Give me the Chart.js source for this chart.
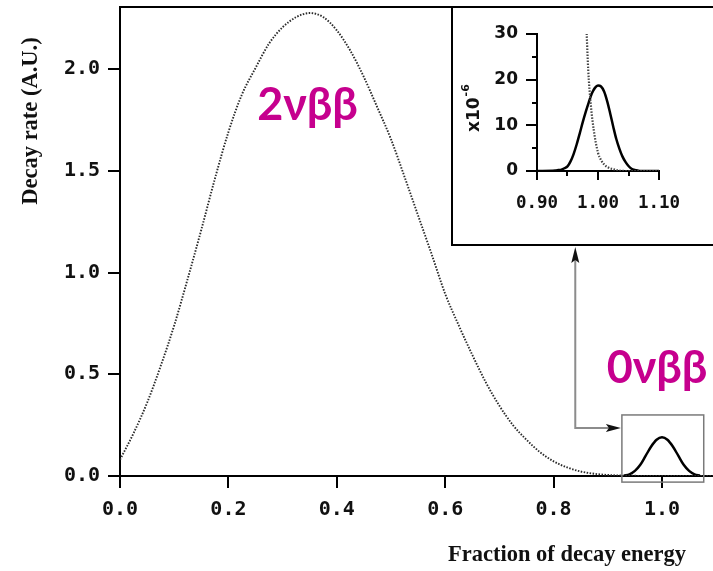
<!DOCTYPE html>
<html>
<head>
<meta charset="utf-8">
<script src="https://cdn.jsdelivr.net/npm/chart.js@4.4.1/dist/chart.umd.min.js"></script>
<style>
  html, body { margin: 0; padding: 0; background: #fff; overflow: hidden; }
  #wrap { position: relative; width: 713px; height: 571px; overflow: hidden; }
  #main { position: absolute; left: 0; top: 0; }
  #inset { position: absolute; left: 451px; top: 6px; width: 300px; height: 240px;
           box-sizing: border-box; border: 2px solid #000; background: #fff; }
  #zoom { position: absolute; left: 0; top: 0; }
</style>
</head>
<body>
<div id="wrap">
  <canvas id="main" width="790" height="571"></canvas>
  <div id="inset"><canvas id="zoom" width="296" height="236"></canvas></div>
</div>
<script>
// 2vbb spectrum: summed electron energy (fraction of Q) vs decay rate
const energy = [0, 0.025, 0.05, 0.075, 0.1, 0.125, 0.15, 0.175, 0.2, 0.225,
  0.25, 0.275, 0.3, 0.325, 0.35, 0.375, 0.4, 0.425, 0.45, 0.475,
  0.5, 0.525, 0.55, 0.575, 0.6, 0.625, 0.65, 0.675, 0.7, 0.725,
  0.75, 0.775, 0.8, 0.825, 0.85, 0.875, 0.9, 0.925, 0.95, 0.975,
  1.0, 1.025, 1.05, 1.075, 1.1];
const rate2nu = [0.08, 0.21, 0.36, 0.54, 0.74, 0.97, 1.21, 1.46, 1.69, 1.875,
  2.005, 2.125, 2.205, 2.255, 2.275, 2.255, 2.19, 2.09, 1.96, 1.81,
  1.655, 1.47, 1.28, 1.09, 0.895, 0.74, 0.595, 0.46, 0.345, 0.25,
  0.178, 0.117, 0.072, 0.042, 0.022, 0.011, 0.005, 0.002, 0.001, 0,
  0, 0, 0, 0, 0];

// 0vbb peak at the endpoint (scaled up to be visible)
const peakEnergy = [0.93, 0.94, 0.95, 0.96, 0.97, 0.98, 0.99, 1.0,
  1.01, 1.02, 1.03, 1.04, 1.05, 1.06, 1.07];
const peakRate = [0.002, 0.008, 0.025, 0.055, 0.1, 0.145, 0.178, 0.19,
  0.178, 0.145, 0.1, 0.055, 0.025, 0.008, 0.002];

// zoomed endpoint region (x10^-6)
const tailEnergy = [0.979, 0.9815, 0.984, 0.988, 0.993, 1.0, 1.005, 1.011, 1.018, 1.025, 1.035, 1.045, 1.1];
const tailRate = [38, 29.8, 22.1, 14.8, 9.0, 4.0, 2.4, 1.3, 0.7, 0.4, 0.1, 0, 0];
const zoomEnergy = [0.9, 0.93, 0.935, 0.94, 0.945, 0.95, 0.955, 0.96, 0.965, 0.97, 0.975,
  0.98, 0.985, 0.99, 0.995, 1.0, 1.005, 1.01, 1.015, 1.02, 1.025,
  1.03, 1.035, 1.04, 1.045, 1.05, 1.055, 1.06, 1.065, 1.07, 1.1];
const zoomRate = [0, 0.1, 0.2, 0.3, 0.6, 1.0, 2.1, 3.7, 5.8, 8.2, 10.7,
  13.0, 15.1, 17.0, 18.2, 18.7, 18.5, 17.4, 15.3, 12.6, 9.7,
  7.0, 4.9, 3.2, 2.0, 1.1, 0.5, 0.25, 0.1, 0, 0];

const mainXTicks = [0, 0.2, 0.4, 0.6, 0.8, 1.0];
const mainYTicks = [0, 0.5, 1.0, 1.5, 2.0];
const zoomXTicks = [0.9, 1.0, 1.1];
const zoomXMinor = [0.95, 1.05];
const zoomYTicks = [0, 10, 20, 30];
const zoomYMinor = [5, 15, 25];

const MAGENTA = '#C6008E';
const pts = (xs, ys) => xs.map((x, i) => ({ x: x, y: ys[i] }));
const setTicks = list => scale => { scale.ticks = list.map(v => ({ value: v })); };
// fixed axis size, and no extra room reserved for half-labels at the ends
const fixSize = (dim, val) => s => {
  s[dim] = val;
  s.paddingTop = 0; s.paddingBottom = 0; s.paddingLeft = 0; s.paddingRight = 0;
};

const monoFont = size => ({ family: 'DejaVu Sans Mono', weight: 'bold', size: size });

const decor = {
  id: 'decor',
  afterDraw(chart) {
    const ctx = chart.ctx;
    const a = chart.chartArea;
    const xs = chart.scales.x, ys = chart.scales.y;
    ctx.save();

    // top frame line
    ctx.strokeStyle = '#000';
    ctx.lineWidth = 2;
    ctx.beginPath();
    ctx.moveTo(a.left - 1, a.top);
    ctx.lineTo(a.right, a.top);
    ctx.stroke();

    // box around the endpoint peak
    const bx0 = xs.getPixelForValue(0.926), bx1 = xs.getPixelForValue(1.077);
    const by0 = ys.getPixelForValue(0.30), by1 = ys.getPixelForValue(-0.03);
    ctx.strokeStyle = '#7a7a7a';
    ctx.lineWidth = 1.5;
    ctx.strokeRect(bx0, by0, bx1 - bx0, by1 - by0);

    // connector arrow to the inset
    const ax = xs.getPixelForValue(0.84);
    const ay = ys.getPixelForValue(0.236);
    const top = ys.getPixelForValue(1.125);
    ctx.strokeStyle = '#8c8c8c';
    ctx.lineWidth = 2;
    ctx.beginPath();
    ctx.moveTo(bx0 - 12, ay);
    ctx.lineTo(ax, ay);
    ctx.lineTo(ax, top + 12);
    ctx.stroke();
    ctx.fillStyle = '#111';
    ctx.beginPath();
    ctx.moveTo(bx0 - 1, ay);
    ctx.lineTo(bx0 - 16, ay - 4);
    ctx.lineTo(bx0 - 13, ay);
    ctx.lineTo(bx0 - 16, ay + 4);
    ctx.closePath();
    ctx.fill();
    ctx.beginPath();
    ctx.moveTo(ax, top);
    ctx.lineTo(ax - 4, top + 16);
    ctx.lineTo(ax, top + 13);
    ctx.lineTo(ax + 4, top + 16);
    ctx.closePath();
    ctx.fill();

    // axis titles
    ctx.fillStyle = '#111';
    ctx.font = 'bold 22.5px "Liberation Serif"';
    ctx.textAlign = 'center';
    ctx.textBaseline = 'alphabetic';
    ctx.fillText('Fraction of decay energy', 567, 561);
    ctx.save();
    ctx.translate(37, 121);
    ctx.rotate(-Math.PI / 2);
    ctx.fillText('Decay rate (A.U.)', 0, 0);
    ctx.restore();

    // process labels
    ctx.fillStyle = MAGENTA;
    ctx.font = 'bold 45px Lato';
    ctx.textAlign = 'left';
    ctx.fillText('2νββ', xs.getPixelForValue(0.253), ys.getPixelForValue(1.749));
    ctx.fillText('0νββ', xs.getPixelForValue(0.898), ys.getPixelForValue(0.457));
    ctx.restore();
  }
};

new Chart(document.getElementById('main'), {
  type: 'line',
  data: {
    datasets: [{
      data: pts(energy, rate2nu),
      borderColor: '#2a2a2a',
      borderWidth: 1.9,
      borderDash: [1.5, 1.5],
      pointRadius: 0,
      cubicInterpolationMode: 'monotone',
      fill: false
    }, {
      data: pts(peakEnergy, peakRate),
      borderColor: '#000',
      borderWidth: 2.5,
      pointRadius: 0,
      cubicInterpolationMode: 'monotone',
      fill: false
    }]
  },
  options: {
    responsive: false,
    animation: false,
    layout: { padding: { left: 0, top: 7, right: 19.6, bottom: 0 } },
    plugins: { legend: { display: false }, tooltip: { enabled: false } },
    scales: {
      x: {
        type: 'linear', min: 0, max: 1.2,
        afterBuildTicks: setTicks(mainXTicks),
        afterFit: fixSize('height', 95),
        grid: { display: true, drawOnChartArea: false, drawTicks: true, tickLength: 12, color: '#000', lineWidth: 2 },
        border: { display: true, color: '#000', width: 2 },
        ticks: { color: '#111', font: monoFont(20), padding: 10, maxRotation: 0, callback: v => v.toFixed(1) }
      },
      y: {
        type: 'linear', min: 0, max: 2.3047,
        afterBuildTicks: setTicks(mainYTicks),
        afterFit: fixSize('width', 120),
        grid: { display: true, drawOnChartArea: false, drawTicks: true, tickLength: 12, color: '#000', lineWidth: 2 },
        border: { display: true, color: '#000', width: 2 },
        ticks: { color: '#111', font: monoFont(20), padding: 8, callback: v => v.toFixed(1) }
      }
    }
  },
  plugins: [decor]
});

// inset y label: x10^-6
const insetLabel = {
  id: 'insetLabel',
  afterDraw(chart) {
    const ctx = chart.ctx;
    ctx.save();
    ctx.fillStyle = '#111';
    ctx.translate(22, 124);
    ctx.rotate(-Math.PI / 2);
    ctx.textAlign = 'left';
    ctx.textBaseline = 'middle';
    ctx.font = 'bold 17px "DejaVu Sans"';
    ctx.fillText('x10', 0, 0);
    const w = ctx.measureText('x10').width;
    ctx.font = 'bold 11px "DejaVu Sans"';
    ctx.fillText('-6', w + 1, -9);
    ctx.restore();
  }
};

const tickGrid = len => ({ display: true, drawOnChartArea: false, drawTicks: true, tickLength: len, color: '#000', lineWidth: 2 });

new Chart(document.getElementById('zoom'), {
  type: 'line',
  data: {
    datasets: [{
      data: pts(tailEnergy, tailRate),
      borderColor: '#444',
      borderWidth: 2.2,
      borderDash: [1.5, 1.5],
      pointRadius: 0,
      cubicInterpolationMode: 'monotone',
      fill: false
    }, {
      data: pts(zoomEnergy, zoomRate),
      borderColor: '#000',
      borderWidth: 2.5,
      pointRadius: 0,
      cubicInterpolationMode: 'monotone',
      fill: false
    }]
  },
  options: {
    responsive: false,
    animation: false,
    layout: { padding: { left: 0, top: 26, right: 90, bottom: 0 } },
    plugins: { legend: { display: false }, tooltip: { enabled: false } },
    scales: {
      x: {
        type: 'linear', min: 0.9, max: 1.1, position: 'bottom', weight: 1,
        afterBuildTicks: setTicks(zoomXTicks),
        afterFit: fixSize('height', 73),
        grid: tickGrid(9),
        border: { display: true, color: '#000', width: 2 },
        ticks: { color: '#111', font: monoFont(17.5), padding: 13, maxRotation: 0, callback: v => v.toFixed(2) }
      },
      xMinor: {
        type: 'linear', min: 0.9, max: 1.1, position: 'bottom', weight: 0,
        afterBuildTicks: setTicks(zoomXMinor),
        afterFit: fixSize('height', 0),
        grid: tickGrid(5),
        border: { display: false },
        ticks: { display: false }
      },
      y: {
        type: 'linear', min: 0, max: 30, position: 'left', weight: 1,
        afterBuildTicks: setTicks(zoomYTicks),
        afterFit: fixSize('width', 84),
        grid: tickGrid(11),
        border: { display: true, color: '#000', width: 2 },
        ticks: { color: '#111', font: { family: 'DejaVu Sans', weight: 'bold', size: 17 }, padding: 8, callback: v => String(v) }
      },
      yMinor: {
        type: 'linear', min: 0, max: 30, position: 'left', weight: 0,
        afterBuildTicks: setTicks(zoomYMinor),
        afterFit: fixSize('width', 0),
        grid: tickGrid(5),
        border: { display: false },
        ticks: { display: false }
      }
    }
  },
  plugins: [insetLabel]
});
</script>
</body>
</html>
